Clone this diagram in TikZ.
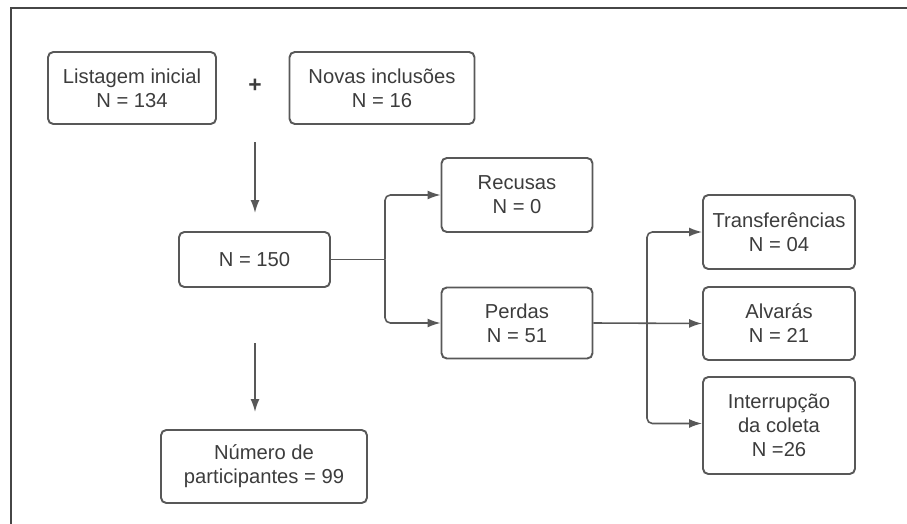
\documentclass[tikz,border=0pt]{standalone}
\usepackage{fontspec}
\setmainfont{Liberation Sans}
\usetikzlibrary{arrows.meta}

\definecolor{linha}{RGB}{88,88,88}
\definecolor{texto}{RGB}{60,60,60}
\definecolor{moldura}{RGB}{70,70,70}

\begin{document}
\begin{tikzpicture}[x=0.02cm, y=-0.02cm]
    \tikzset{
        caixa/.style={
            draw=linha, line width=1.1pt, rounded corners=3pt,
            align=center, text=texto, inner sep=2pt,
            font=\fontsize{11.5}{13.7}\selectfont,
        },
        seta/.style={
            draw=linha, line width=0.9pt,
            -{Latex[length=2.6mm, width=1.8mm]},
        },
    }

    \useasboundingbox (0,0) rectangle (907,524);

    % Frame
    \draw[line width=1.3pt, draw=moldura] (11,524) -- (11,8) -- (907,8);

    % Boxes
    \node[caixa, minimum width=3.36cm, minimum height=1.44cm] (listagem) at (132,88) {Listagem inicial\\N = 134};
    \node[caixa, minimum width=3.70cm, minimum height=1.44cm] (novas) at (382,88) {Novas inclusões\\N = 16};
    \node[text=texto, font=\fontsize{13}{15}\selectfont\bfseries] (mais) at (255,86) {+};
    \node[caixa, minimum width=3.02cm, minimum height=1.10cm] (total) at (254.5,259.5) {N = 150};
    \node[caixa, minimum width=3.02cm, minimum height=1.48cm] (recusas) at (517,195) {Recusas\\N = 0};
    \node[caixa, minimum width=3.02cm, minimum height=1.42cm] (perdas) at (517,323) {Perdas\\N = 51};
    \node[caixa, minimum width=4.12cm, minimum height=1.46cm] (numero) at (264,466.5) {Número de\\participantes = 99};
    \node[caixa, minimum width=3.04cm, minimum height=1.48cm] (transf) at (779,232) {Transferências\\N = 04};
    \node[caixa, minimum width=3.04cm, minimum height=1.46cm] (alvaras) at (779,323.5) {Alvarás\\N = 21};
    \node[caixa, minimum width=3.04cm, minimum height=1.94cm] (interrup) at (779,425.5) {Interrupção\\da coleta\\N =26};

    % Arrows
    \coordinate (desce1) at (255,142);
    \coordinate (chega1) at (255,213);
    \coordinate (desce2) at (255,343);
    \coordinate (chega2) at (255,412);
    \coordinate (ramo1) at (385,259.5);
    \coordinate (ramo2) at (647,323);

    \draw[seta] (desce1) -- (chega1);
    \draw[seta] (desce2) -- (chega2);

    \draw[draw=linha, line width=0.9pt] (total.east) -- (ramo1);
    \draw[seta, rounded corners=3pt] (ramo1) |- (recusas.west);
    \draw[seta, rounded corners=3pt] (ramo1) |- (perdas.west);

    \draw[seta] (perdas.east) -- (alvaras.west);
    \draw[seta, rounded corners=3pt] (ramo2) |- (transf.west);
    \draw[seta, rounded corners=3pt] (ramo2) |- ([yshift=0.04cm]interrup.west);

\end{tikzpicture}
\end{document}
